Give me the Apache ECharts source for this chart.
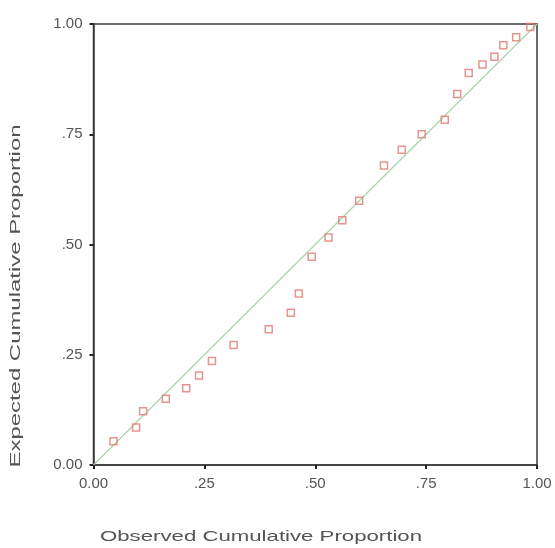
<!DOCTYPE html>
<html><head><meta charset="utf-8">
<script src="https://cdn.jsdelivr.net/npm/echarts@6/dist/echarts.min.js"></script>
<style>html,body{margin:0;padding:0;background:#fff}#c{width:555px;height:548px}</style>
</head><body><div id="c"></div>
<script>
const observed = [0.045,0.096,0.112,0.163,0.209,0.238,0.267,0.316,0.395,0.445,0.463,0.492,0.530,0.561,0.599,0.655,0.695,0.740,0.792,0.820,0.846,0.877,0.904,0.924,0.953,0.985];
const expected = [0.054,0.085,0.122,0.150,0.174,0.203,0.236,0.272,0.308,0.345,0.389,0.472,0.516,0.555,0.599,0.679,0.715,0.750,0.783,0.841,0.889,0.908,0.926,0.952,0.970,0.993];
const refLine = [[0,0],[1,1]];
const tickLabels = {0:'0.00',0.25:'.25',0.5:'.50',0.75:'.75',1:'1.00'};
const xTitle = 'Observed Cumulative Proportion';
const yTitle = 'Expected Cumulative Proportion';

const titleFont = '15px "Liberation Sans", Arial';
const cv = document.createElement('canvas').getContext('2d');
cv.font = titleFont;
const xScale = 322 / cv.measureText(xTitle).width;
const yScale = 343 / cv.measureText(yTitle).width;

const chart = echarts.init(document.getElementById('c'), null, {renderer:'canvas'});
const fmt = v => tickLabels[Math.round(v*100)/100] ?? '';
const labelStyle = {formatter:fmt,color:'#555',fontFamily:'Liberation Sans, Arial',fontSize:15};
const axisCommon = {
  type:'value', min:0, max:1, interval:0.25,
  axisLine:{show:true,lineStyle:{color:'#3a3a3a',width:1.5}},
  axisTick:{show:true,length:4,lineStyle:{color:'#222',width:2}},
  splitLine:{show:false}
};
chart.setOption({
  animation:false,
  backgroundColor:'#fff',
  grid:{left:93.5,top:24,right:18,bottom:83,outerBoundsMode:'none',containLabel:false,show:true,borderColor:'#3a3a3a',borderWidth:1.5},
  xAxis:Object.assign({},axisCommon,{axisLabel:Object.assign({},labelStyle,{margin:11})}),
  yAxis:Object.assign({},axisCommon,{axisLabel:Object.assign({},labelStyle,{margin:11})}),
  graphic:[
    {type:'text',x:261,y:537,scaleX:xScale,style:{text:xTitle,fill:'#555',font:titleFont,align:'center',verticalAlign:'middle'}},
    {type:'text',x:16,y:296,rotation:Math.PI/2,scaleX:yScale,style:{text:yTitle,fill:'#555',font:titleFont,align:'center',verticalAlign:'middle'}}
  ],
  series:[
    {type:'line',data:refLine,symbol:'none',lineStyle:{color:'#a8d4a8',width:1.2},z:1,silent:true},
    {type:'scatter',data:observed.map((x,i)=>[x,expected[i]]),symbol:'rect',symbolSize:7,
     itemStyle:{color:'rgba(255,255,255,0)',borderColor:'#e07a72',borderWidth:1.5},z:3}
  ]
});
</script></body></html>
